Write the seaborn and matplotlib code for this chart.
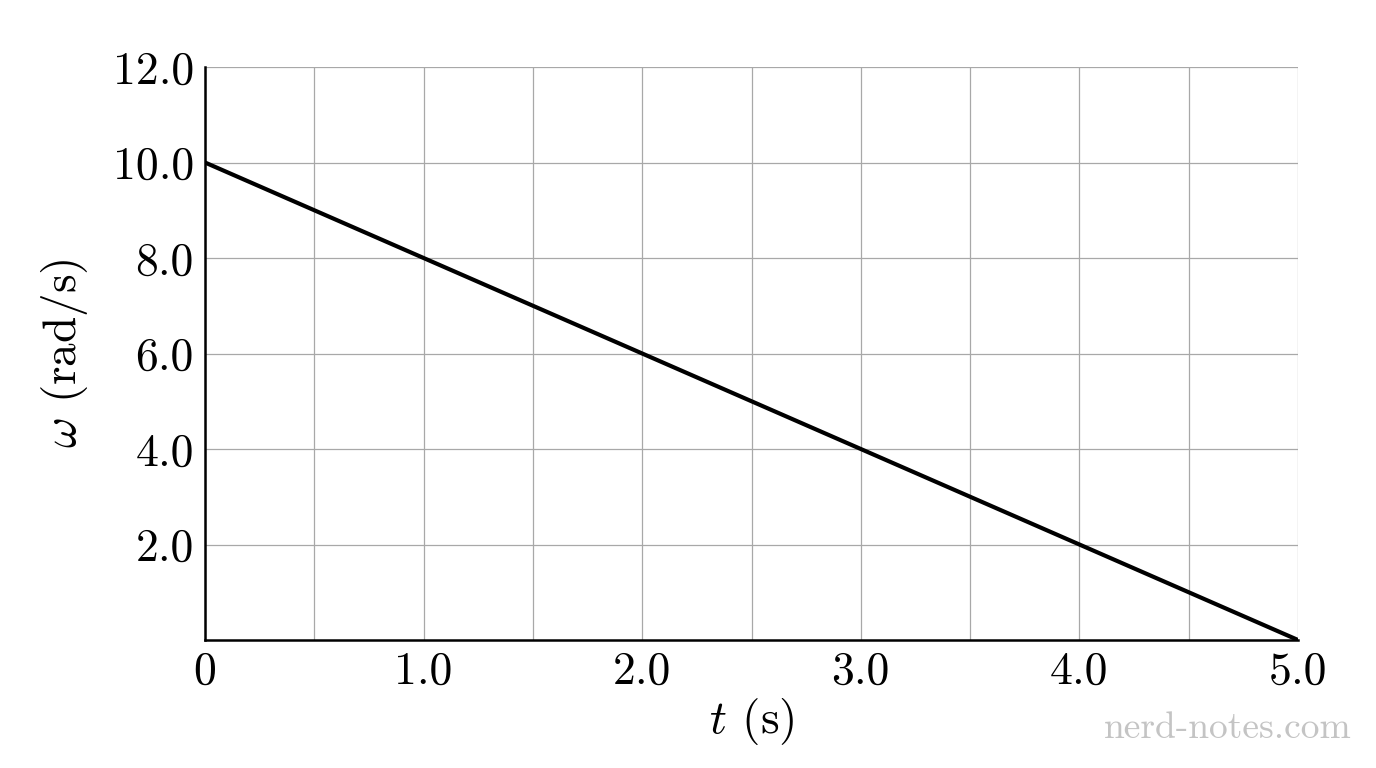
import matplotlib
matplotlib.use("Agg")
import matplotlib.pyplot as plt
import seaborn as sns
import numpy as np

# data
t = [0.0, 5.0]
omega = [10.0, 0.0]
x_ticks = [0, 1.0, 2.0, 3.0, 4.0, 5.0]
x_labels = ["0", "1.0", "2.0", "3.0", "4.0", "5.0"]
y_ticks = [2.0, 4.0, 6.0, 8.0, 10.0, 12.0]
y_labels = ["2.0", "4.0", "6.0", "8.0", "10.0", "12.0"]

sns.set_style("white")
plt.rcParams["font.family"] = ["cmr10", "DejaVu Serif"]
plt.rcParams["mathtext.fontset"] = "cm"
plt.rcParams["axes.unicode_minus"] = False
plt.rcParams["text.color"] = "black"
plt.rcParams["xtick.color"] = "black"
plt.rcParams["ytick.color"] = "black"
plt.rcParams["axes.labelcolor"] = "black"

fig = plt.figure(figsize=(13.76, 7.68), dpi=100)
ax = fig.add_axes([205/1376, 1-640/768, (1298-205)/1376, (640-67)/768])

sns.lineplot(x=t, y=omega, ax=ax, color="black", linewidth=3)

ax.set_xlim(0, 5)
ax.set_ylim(0, 12)
ax.set_xticks(np.arange(0, 5.01, 0.5), minor=True)
ax.set_xticks(x_ticks)
ax.set_xticklabels(x_labels, fontsize=33)
ax.set_yticks(y_ticks)
ax.set_yticklabels(y_labels, fontsize=33)
ax.grid(True, which="both", color="#a8a8a8", linewidth=0.9)
ax.tick_params(length=0, pad=8)
for s in ["top", "right"]:
    ax.spines[s].set_visible(False)
for s in ["left", "bottom"]:
    ax.spines[s].set_color("black")
    ax.spines[s].set_linewidth(1.8)

ax.set_xlabel(r"$t$ (s)", fontsize=34, labelpad=2)
ax.set_ylabel(r"$\omega$ (rad/s)", fontsize=34, labelpad=16)

fig.text(0.982, 0.03, "nerd-notes.com", color="#c4c4c4", fontsize=27,
         ha="right", va="bottom", fontweight="bold")

fig.savefig("out.png", dpi=100)
